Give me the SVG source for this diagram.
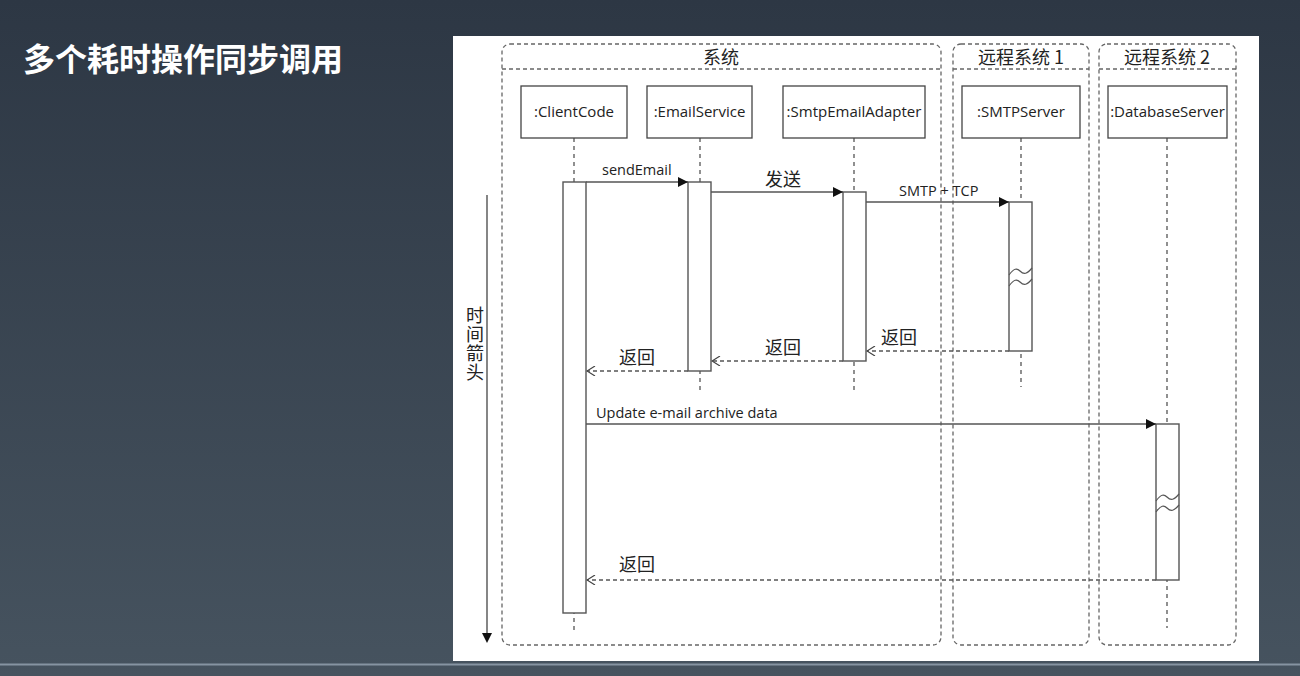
<svg xmlns="http://www.w3.org/2000/svg" width="1300" height="676" viewBox="0 0 1300 676">
<defs>
<linearGradient id="bg" x1="0" y1="0" x2="0" y2="1">
<stop offset="0" stop-color="#2d3744"/>
<stop offset="1" stop-color="#46535f"/>
</linearGradient>
<marker id="solid" viewBox="0 0 10 10" refX="10" refY="5" markerWidth="10" markerHeight="10" markerUnits="userSpaceOnUse" orient="auto">
<path d="M0,0 L10,5 L0,10 Z" fill="#111"/>
</marker>
<marker id="open" viewBox="0 0 10 10" refX="9" refY="5" markerWidth="10" markerHeight="10" markerUnits="userSpaceOnUse" orient="auto">
<path d="M1,0 L9,5 L1,10" fill="none" stroke="#444" stroke-width="1.2"/>
</marker>
</defs>
<style>
.frame{fill:none;stroke:#666;stroke-width:1.3;stroke-dasharray:4 3}
.head{fill:white;stroke:#444;stroke-width:1.3}
.bar{fill:white;stroke:#555;stroke-width:1.4}
.life{stroke:#555;stroke-width:1.3;stroke-dasharray:4 4;fill:none}
.msg{stroke:#555;stroke-width:1.4;fill:none}
.ret{stroke:#555;stroke-width:1.3;stroke-dasharray:4 3;fill:none}
.wave{stroke:#555;stroke-width:1.2;fill:none}
.lbl{font-family:"Open Sans","Noto Sans",sans-serif;font-size:15px;fill:#222;text-anchor:middle}
.mlbl{font-family:"Open Sans","Noto Sans",sans-serif;font-size:14.5px;fill:#222}
.cjk{font-family:"Noto Sans CJK SC","Noto Sans",sans-serif;font-size:18px;fill:#222}
</style>
<rect width="1300" height="676" fill="url(#bg)"/>
<rect x="0" y="663.5" width="1300" height="2" fill="#8694a2"/>
<text x="23" y="71" font-family="'Noto Sans CJK SC','Noto Sans',sans-serif" font-size="32" font-weight="600" fill="#ffffff">多个耗时操作同步调用</text>
<rect x="453" y="36" width="806" height="625" fill="#ffffff"/>

<g id="frame-system">
<rect class="frame" x="502" y="44" width="439" height="601" rx="8"/>
<line class="frame" x1="502" y1="69" x2="941" y2="69"/>
<text class="cjk" x="721" y="64" text-anchor="middle">系统</text>
</g>
<g id="frame-remote1">
<rect class="frame" x="953" y="44" width="136" height="601" rx="8"/>
<line class="frame" x1="953" y1="69" x2="1089" y2="69"/>
<text class="cjk" x="1021" y="64" text-anchor="middle">远程系统 1</text>
</g>
<g id="frame-remote2">
<rect class="frame" x="1099" y="44" width="137" height="601" rx="8"/>
<line class="frame" x1="1099" y1="69" x2="1236" y2="69"/>
<text class="cjk" x="1167" y="64" text-anchor="middle">远程系统 2</text>
</g>

<g id="time-arrow">
<line x1="487" y1="195" x2="487" y2="634" stroke="#444" stroke-width="1.3"/>
<path d="M482,633 L492,633 L487,643 Z" fill="#111"/>
<text class="cjk" x="475" y="306" writing-mode="vertical-rl" letter-spacing="1" font-size="17">时间箭头</text>
</g>

<g id="clientcode">
<line class="life" x1="574" y1="138" x2="574" y2="632"/>
<rect class="head" x="521" y="86" width="106" height="52"/>
<text class="lbl" x="574" y="117">:ClientCode</text>
<rect class="bar" x="563" y="182" width="23" height="431"/>
</g>
<g id="emailservice">
<line class="life" x1="700" y1="138" x2="700" y2="390"/>
<rect class="head" x="647" y="86" width="105" height="52"/>
<text class="lbl" x="699.5" y="117">:EmailService</text>
<rect class="bar" x="688" y="182" width="23" height="189"/>
</g>
<g id="smtpemailadapter">
<line class="life" x1="854" y1="138" x2="854" y2="390"/>
<rect class="head" x="783" y="86" width="142" height="52"/>
<text class="lbl" x="854" y="117">:SmtpEmailAdapter</text>
<rect class="bar" x="843" y="192" width="23" height="169"/>
</g>
<g id="smtpserver">
<line class="life" x1="1021" y1="138" x2="1021" y2="387"/>
<rect class="head" x="962" y="86" width="118" height="52"/>
<text class="lbl" x="1021" y="117">:SMTPServer</text>
<rect class="bar" x="1009" y="202" width="23" height="149"/>
<path class="wave" d="M1009,275 C1014,268 1017,268 1020,271 C1024,275 1027,274 1032,268"/>
<path class="wave" d="M1009,286 C1014,279 1017,279 1020,282 C1024,286 1027,285 1032,279"/>
</g>
<g id="databaseserver">
<line class="life" x1="1167" y1="138" x2="1167" y2="628"/>
<rect class="head" x="1108" y="86" width="119" height="52"/>
<text class="lbl" x="1167.5" y="117">:DatabaseServer</text>
<rect class="bar" x="1156" y="424" width="23" height="156"/>
<path class="wave" d="M1156,501 C1161,494 1164,494 1167,497 C1171,501 1174,500 1179,494"/>
<path class="wave" d="M1156,512 C1161,505 1164,505 1167,508 C1171,512 1174,511 1179,505"/>
</g>

<g id="connectors">
<line class="msg" x1="586" y1="182" x2="688" y2="182" marker-end="url(#solid)"/>
<text class="mlbl" x="602" y="175">sendEmail</text>
<line class="msg" x1="711" y1="192" x2="843" y2="192" marker-end="url(#solid)"/>
<text class="cjk" x="783" y="186" text-anchor="middle">发送</text>
<line class="msg" x1="866" y1="202" x2="1009" y2="202" marker-end="url(#solid)"/>
<text class="mlbl" x="899" y="196">SMTP + TCP</text>
<line class="ret" x1="1009" y1="351" x2="867" y2="351" marker-end="url(#open)"/>
<text class="cjk" x="899" y="344" text-anchor="middle">返回</text>
<line class="ret" x1="843" y1="361" x2="712" y2="361" marker-end="url(#open)"/>
<text class="cjk" x="783" y="354" text-anchor="middle">返回</text>
<line class="ret" x1="688" y1="371" x2="587" y2="371" marker-end="url(#open)"/>
<text class="cjk" x="637" y="364" text-anchor="middle">返回</text>
<line class="msg" x1="586" y1="424" x2="1156" y2="424" marker-end="url(#solid)"/>
<text class="mlbl" x="596" y="418">Update e-mail archive data</text>
<line class="ret" x1="1156" y1="580" x2="587" y2="580" marker-end="url(#open)"/>
<text class="cjk" x="637" y="571" text-anchor="middle">返回</text>
</g>
</svg>
